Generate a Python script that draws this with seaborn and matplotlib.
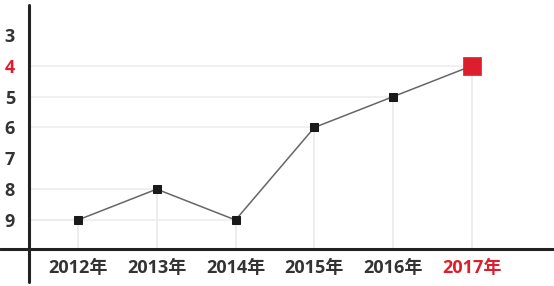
import matplotlib
matplotlib.use("Agg")
import matplotlib.pyplot as plt
from matplotlib.lines import Line2D
import seaborn as sns
import pandas as pd

years = ["2012年", "2013年", "2014年", "2015年", "2016年", "2017年"]
ranks = [9, 8, 9, 6, 5, 4]
y_ticks = [3, 4, 5, 6, 7, 8, 9]
highlight_year = "2017年"
highlight_rank = 4

sns.set_theme(style="white")
plt.rcParams["font.family"] = ["Open Sans", "Noto Sans CJK SC", "DejaVu Sans"]

TEXT = "#333333"
RED = "#dc1e2d"

df = pd.DataFrame({"pos": range(len(years)), "year": years, "rank": ranks})

fig = plt.figure(figsize=(5.54, 2.86), dpi=100)
ax = fig.add_axes([29 / 554, 37 / 286, (554 - 29) / 554, 244 / 286])

# drop lines from each point
ax.vlines(df["pos"], df["rank"], 9.94, colors="#e8e8e8", linewidth=1.1, zorder=1)
ax.hlines(df["rank"], -0.62, df["pos"], colors="#ececec", linewidth=1.1, zorder=1)

sns.lineplot(data=df, x="pos", y="rank", ax=ax, color="#666666", linewidth=1.1,
             marker="s", markersize=5.5, markerfacecolor="#1a1a1a",
             markeredgecolor="#1a1a1a", zorder=3)
hl = df[df["year"] == highlight_year]
sns.scatterplot(data=hl, x="pos", y="rank", ax=ax, marker="s", s=185,
                color=RED, edgecolor=RED, linewidth=0.5, zorder=4, legend=False)

ax.set_xlim(-0.62, 6.04)
ax.set_ylim(9.94, 2.03)

ax.set_xticks(range(len(years)))
ax.set_xticklabels(years)
ax.set_yticks(y_ticks)
ax.set_yticklabels([str(v) for v in y_ticks])
ax.tick_params(axis="both", length=0, labelsize=13, labelcolor=TEXT)
ax.tick_params(axis="y", pad=10)
ax.tick_params(axis="x", pad=7.5)
for lab in ax.get_xticklabels() + ax.get_yticklabels():
    lab.set_fontweight("bold")
    if lab.get_text() in (highlight_year, str(highlight_rank)):
        lab.set_color(RED)

ax.set_xlabel("")
ax.set_ylabel("")
for s in ax.spines.values():
    s.set_visible(False)
ax.grid(False)

# crossing axis lines
fig.add_artist(Line2D([0, 1], [37 / 286, 37 / 286], color="#222222", linewidth=2.2,
                      transform=fig.transFigure))
fig.add_artist(Line2D([29 / 554, 29 / 554], [4 / 286, 281 / 286], color="#222222",
                      linewidth=2.2, transform=fig.transFigure))

fig.savefig("out.png", dpi=100)
